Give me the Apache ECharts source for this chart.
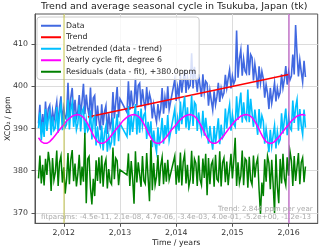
<!DOCTYPE html>
<html><head><meta charset="utf-8">
<script src="https://cdn.jsdelivr.net/npm/echarts@6/dist/echarts.min.js"></script>
<style>html,body{margin:0;padding:0;background:#fff}#c{width:320px;height:251px}</style>
</head><body><div id="c"></div>
<script>
const titleText = 'Trend and average seasonal cycle in Tsukuba, Japan (tk)';
const seriesNames = ['Data', 'Trend', 'Detrended (data - trend)', 'Yearly cycle fit, degree 6', 'Residuals (data - fit), +380.0ppm'];
const trendNote = 'Trend: 2.844 ppm per year';
const fitNote = 'fitparams: -4.5e-11, 2.1e-08, 4.7e-06, -3.4e-03, 4.0e-01, -5.2e+00, -1.2e-13';
const xTicks = [2012, 2013, 2014, 2015, 2016];
const yTicks = [370, 380, 390, 400, 410];
const markerYears = [2012.0, 2016.0];
const trendTimes = [2012.43, 2016.0];
const trendVals = [392.7, 402.8];

const times = [
2011.55,2011.575,2011.6,2011.625,2011.65,2011.675,2011.7,2011.725,2011.75,2011.775,
2011.8,2011.825,2011.85,2011.875,2011.9,2011.925,2011.95,2011.975,2012,2012.025,
2012.05,2012.075,2012.1,2012.125,2012.15,2012.175,2012.2,2012.225,2012.25,2012.275,
2012.3,2012.325,2012.35,2012.375,2012.4,2012.425,2012.45,2012.475,2012.5,2012.525,
2012.55,2012.575,2012.6,2012.625,2012.65,2012.675,2012.7,2012.725,2012.75,2012.775,
2012.8,2012.825,2012.85,2012.875,2012.9,2012.925,2012.95,2012.975,2013,
2013.125,2013.15,2013.175,2013.2,2013.225,2013.25,2013.275,2013.3,2013.325,2013.35,
2013.375,2013.4,2013.425,2013.45,2013.475,2013.5,2013.525,2013.55,2013.575,2013.6,
2013.625,2013.65,2013.675,2013.7,2013.725,2013.75,2013.775,2013.8,2013.825,2013.85,2013.875,
2013.975,2014,2014.025,
2014.05,2014.075,2014.1,2014.125,2014.15,2014.175,2014.2,2014.225,2014.25,2014.275,
2014.3,2014.325,2014.35,2014.375,2014.4,2014.425,2014.45,2014.475,2014.5,2014.525,
2014.55,2014.575,2014.6,2014.625,2014.65,2014.675,2014.7,2014.725,2014.75,2014.775,
2014.8,2014.825,2014.85,2014.875,2014.9,2014.925,2014.95,2014.975,2015,2015.025,
2015.05,2015.075,2015.1,2015.125,2015.15,2015.175,2015.2,2015.225,2015.25,2015.275,
2015.3,2015.325,2015.35,2015.375,2015.4,2015.425,2015.45,2015.475,2015.5,2015.525,
2015.55,2015.575,2015.6,2015.625,2015.65,2015.675,2015.7,2015.725,2015.75,2015.775,
2015.8,2015.825,2015.85,2015.875,2015.9,2015.925,2015.95,2015.975,2016,2016.025,
2016.05,2016.075,2016.1,2016.125,2016.15,2016.175,2016.2,2016.225,2016.25,2016.275,2016.3
];

const dataVals = [
391.2,395.6,388.6,393.4, 389.8,396.4,391.0,394.7, 395.5,390.6,394.2,391.8, 392.0,396.3,390.8,395.1, 397.6,391.6,394.8,392.4,
393.1,400.8,392.5,397.3, 399.6,393.0,396.8,392.6, 394.0,397.9,393.3,396.5, 400.6,393.4,398.0,394.8, 393.0,399.7,392.4,397.2, 397.8,390.6,395.4,392.0, 389.6,395.7,390.8,394.0, 395.4,388.7,393.6,390.2, 391.6,398.6,392.4,396.3, 399.8,392.6,397.0,
393.8, 401.2,394.4,399.0,395.3, 396.0,401.8,395.4,400.2, 400.7,395.2,399.3,396.4, 394.6,399.8,395.5,398.2, 396.8,392.4,395.6,393.2, 391.5,395.8,392.7,394.6, 399.6,393.5,397.4,394.8, 400.0,394.5,
401.6,396.5,399.8,
397.6,402.8,398.5,401.4, 403.8,398.4,402.2,399.6, 400.2,407.8,399.5,404.6, 404.7,398.6,402.8,400.0, 397.5,402.8,398.6,401.2, 400.7,395.4,399.0,396.6, 394.4,398.8,395.6,397.6, 400.8,396.3,399.4,397.5, 398.4,402.7,399.6,401.8, 403.8,399.5,402.4,400.6,
401.5,413.2,402.0,406.5, 408.6,402.5,406.4,403.6, 403.0,409.8,402.6,407.5, 406.8,401.4,405.2,402.6, 399.5,404.7,400.8,403.5, 401.8,397.3,400.4,398.4, 394.6,399.6,396.0,398.2, 400.8,396.4,399.5,397.5, 398.5,402.8,399.6,401.6, 404.8,400.4,403.4,401.5,
402.4,407.5,402.8,414.5, 407.8,402.3,406.2,403.4, 401.0,406.0,402.2
];

const detrended = [
390.1,393.8,387.2,391.5, 388.0,394.6,389.4,392.3, 393.9,388.4,392.8,389.6, 390.2,395.1,389.0,393.6, 395.7,389.6,392.4,390.3,
391.0,396.8,389.8,394.5, 396.2,390.4,393.7,389.7, 391.2,395.6,389.3,394.0, 394.8,388.6,392.1,389.4, 390.0,394.3,387.4,392.2, 392.8,386.0,390.5,387.1, 386.0,390.7,384.8,389.0, 390.6,384.5,388.2,385.6, 386.8,392.6,385.9,390.4, 393.4,387.0,391.2,
388.1, 395.3,388.4,393.0,389.2, 392.6,395.8,388.6,394.1, 389.0,394.7,390.6,393.2, 393.8,387.5,391.6,388.3, 391.7,385.6,389.5,386.3, 384.5,390.3,386.0,388.8, 392.5,386.4,390.8,388.0, 393.2,387.3,
394.6,388.7,392.3,
389.5,396.4,391.0,394.9, 397.6,390.2,395.0,389.6, 392.0,397.8,390.6,396.2, 395.6,389.4,393.8,390.8, 389.0,394.2,388.3,392.5, 392.7,386.4,390.6,387.5, 385.0,390.6,386.4,389.3, 392.4,386.3,390.9,387.8, 388.4,394.7,390.0,393.5, 395.6,389.5,393.3,391.0,
390.4,397.6,392.0,395.8, 398.5,391.4,396.2,392.6, 392.0,399.2,391.5,397.0, 396.8,390.4,394.5,391.6, 388.5,394.6,390.0,393.0, 391.8,386.4,389.9,387.3, 384.4,389.7,385.8,388.4, 390.7,385.3,389.2,386.6, 387.4,393.6,388.8,392.1, 394.7,388.4,392.6,390.1,
389.6,396.6,391.3,395.0, 396.8,389.5,394.6,390.7, 388.6,394.5,390.2
];

const residuals = [
378.2,383.6,377.0,381.4, 376.5,382.8,379.0,384.5, 381.9,375.2,383.0,377.8, 379.6,384.8,376.4,382.0, 383.5,377.2,380.8,374.6,
378.0,384.2,376.8,382.6, 384.9,377.5,381.7,376.3, 379.2,383.8,376.6,381.0, 377.4,389.0,372.3,382.8, 383.4,376.0,372.0,378.1, 374.0,382.5,377.6,383.2, 377.0,383.6,376.2,381.4, 382.7,375.8,380.4,377.4, 376.8,385.5,378.0,383.0, 382.4,376.6,380.2,
379.0, 384.1,376.4,382.3,378.2, 372.2,384.6,377.2,382.0, 381.6,376.2,383.5,377.6, 376.9,384.2,378.4,372.8, 387.2,375.4,381.8,376.6, 378.6,383.7,376.4,381.2, 383.2,376.8,381.9,377.4, 382.6,377.8,
383.5,376.7,381.3,
377.2,384.3,376.5,382.1, 383.9,377.0,381.4,376.2, 378.0,384.7,376.9,382.8, 381.8,376.4,383.6,377.9, 376.6,382.9,378.3,384.0, 374.2,383.0,376.8,381.5, 382.4,376.2,383.8,378.0, 377.5,384.6,376.3,381.9, 383.0,377.3,382.2,376.6, 376.9,384.0,378.2,382.5,
387.8,376.4,382.0,377.1, 378.8,384.8,376.6,382.9, 382.4,376.0,383.3,377.8, 376.7,383.6,378.4,381.6, 383.0,375.5,369.8,377.2, 374.0,382.7,377.4,383.5, 381.8,375.6,382.6,376.8, 370.0,383.9,376.2,372.3, 382.8,377.0,384.0,378.2, 376.6,383.2,378.8,384.6,
382.4,376.4,383.5,377.6, 377.5,384.2,376.8,382.0, 383.1,377.3,381.0
];

const fitTimes = [
2011.55,2011.6,2011.65,2011.7,2011.75,2011.8,2011.85,2011.9,2011.95,2012,
2012.05,2012.1,2012.15,2012.2,2012.25,2012.3,2012.35,2012.4,2012.45,2012.5,2012.55,2012.6,2012.65,2012.7,2012.75,2012.8,2012.85,2012.9,2012.95,2013,
2013.05,2013.1,2013.15,2013.2,2013.25,2013.3,2013.35,2013.4,2013.45,2013.5,2013.55,2013.6,2013.65,2013.7,2013.75,2013.8,2013.85,2013.9,2013.95,2014,
2014.05,2014.1,2014.15,2014.2,2014.25,2014.3,2014.35,2014.4,2014.45,2014.5,2014.55,2014.6,2014.65,2014.7,2014.75,2014.8,2014.85,2014.9,2014.95,2015,
2015.05,2015.1,2015.15,2015.2,2015.25,2015.3,2015.35,2015.4,2015.45,2015.5,2015.55,2015.6,2015.65,2015.7,2015.75,2015.8,2015.85,2015.9,2015.95,2016,
2016.05,2016.1,2016.15,2016.2,2016.25,2016.3
];
const fitVals = [
387.8,386.9,386.5,386.5,386.9,387.6,388.4,389.3,390.1,390.9,
391.8,392.4,392.9,393.2,393.3,393.1,392.6,391.7,390.5,389.1,387.8,386.9,386.5,386.5,386.9,387.6,388.4,389.3,390.1,390.9,
391.8,392.4,392.9,393.2,393.3,393.1,392.6,391.7,390.5,389.1,387.8,386.9,386.5,386.5,386.9,387.6,388.4,389.4,390.2,390.9,
391.8,392.4,392.9,393.2,393.3,393.1,392.6,391.7,390.5,389.1,387.8,386.9,386.5,386.5,386.9,387.6,388.4,389.3,390.2,391.0,
391.8,392.4,392.9,393.2,393.3,393.1,392.6,391.7,390.5,389.1,387.8,386.9,386.5,386.5,386.9,387.6,388.4,389.3,390.1,390.9,
391.8,392.4,392.9,393.2,393.3,393.1
];

const pairs = (xs, ys) => xs.map((x, i) => [x, ys[i]]);
const FONT = 'DejaVu Sans';
const chart = echarts.init(document.getElementById('c'), null, {renderer: 'canvas'});
const lineSeries = (name, xs, ys, color, width) => ({
  name, type: 'line', data: pairs(xs, ys), showSymbol: false, symbol: 'none',
  lineStyle: {color, width, join: 'miter'}, itemStyle: {color}, emphasis: {disabled: true}, clip: true
});
const res = lineSeries(seriesNames[4], times, residuals, '#008000', 1.5);
res.markLine = {
  silent: true, symbol: 'none', label: {show: false}, animation: false,
  data: [
    {xAxis: markerYears[0], lineStyle: {color: 'rgba(190,190,40,0.55)', width: 1.5, type: 'solid'}},
    {xAxis: markerYears[1], lineStyle: {color: 'rgba(180,60,190,0.5)', width: 2, type: 'solid'}}
  ]
};
chart.setOption({
  animation: false,
  backgroundColor: '#fff',
  title: {text: titleText, left: 41, top: 1.5, padding: 0,
    textStyle: {fontSize: 9.5, fontWeight: 'normal', fontFamily: FONT, color: '#222'}},
  grid: {left: 35, right: 2.3, top: 14, bottom: 27.7, show: true, borderColor: '#555', borderWidth: 1, backgroundColor: '#fff', outerBoundsMode: 'none', containLabel: false},
  legend: {
    orient: 'vertical', left: 37, top: 17, padding: [3, 3, 2, 4], itemWidth: 20, itemHeight: 2, itemGap: 0,
    icon: 'rect', data: seriesNames, selectedMode: false,
    textStyle: {fontSize: 7.8, lineHeight: 11.5, color: '#222', fontFamily: FONT},
    backgroundColor: 'rgba(255,255,255,0.8)', borderColor: '#ccc', borderWidth: 1, borderRadius: 3
  },
  xAxis: {
    type: 'value', min: 2011.488, max: 2016.518,
    name: 'Time / years', nameLocation: 'middle', nameGap: 15.5, nameMoveOverlap: false,
    nameTextStyle: {fontSize: 7.8, color: '#222', fontFamily: FONT},
    axisLine: {show: true, onZero: false, lineStyle: {color: '#555', width: 1}},
    axisTick: {show: true, customValues: xTicks, length: 3.5, lineStyle: {color: '#555'}},
    axisLabel: {customValues: xTicks, fontSize: 7.8, color: '#333', fontFamily: FONT, margin: 5.5},
    splitLine: {show: true, lineStyle: {color: '#dcdcdc', width: 1}}
  },
  yAxis: {
    type: 'value', min: 367.56, max: 417.1,
    name: 'XCO₂ / ppm', nameLocation: 'middle', nameGap: 23, nameRotate: 90, nameMoveOverlap: false,
    nameTextStyle: {fontSize: 7.8, color: '#222', fontFamily: FONT},
    axisLine: {show: true, onZero: false, lineStyle: {color: '#555', width: 1}},
    axisTick: {show: true, customValues: yTicks, length: 3.5, lineStyle: {color: '#555'}},
    axisLabel: {customValues: yTicks, fontSize: 7.8, color: '#333', fontFamily: FONT, margin: 7},
    splitLine: {show: true, lineStyle: {color: '#dcdcdc', width: 1}}
  },
  series: [
    lineSeries(seriesNames[0], times, dataVals, '#4169e1', 1.6),
    lineSeries(seriesNames[1], trendTimes, trendVals, '#ff0000', 1.5),
    lineSeries(seriesNames[2], times, detrended, '#00bfff', 1.6),
    lineSeries(seriesNames[3], fitTimes, fitVals, '#ff00ff', 1.5),
    res
  ],
  graphic: [
    {type: 'text', x: 312.7, y: 209.3, silent: true, z: 100,
      style: {text: trendNote, align: 'right', verticalAlign: 'middle', fontSize: 7.1, fontFamily: FONT, fill: '#aaa'}},
    {type: 'text', x: 311, y: 216.7, silent: true, z: 100,
      style: {text: fitNote, align: 'right', verticalAlign: 'middle', fontSize: 7.1, fontFamily: FONT, fill: '#aaa'}}
  ]
});
</script>
</body></html>
